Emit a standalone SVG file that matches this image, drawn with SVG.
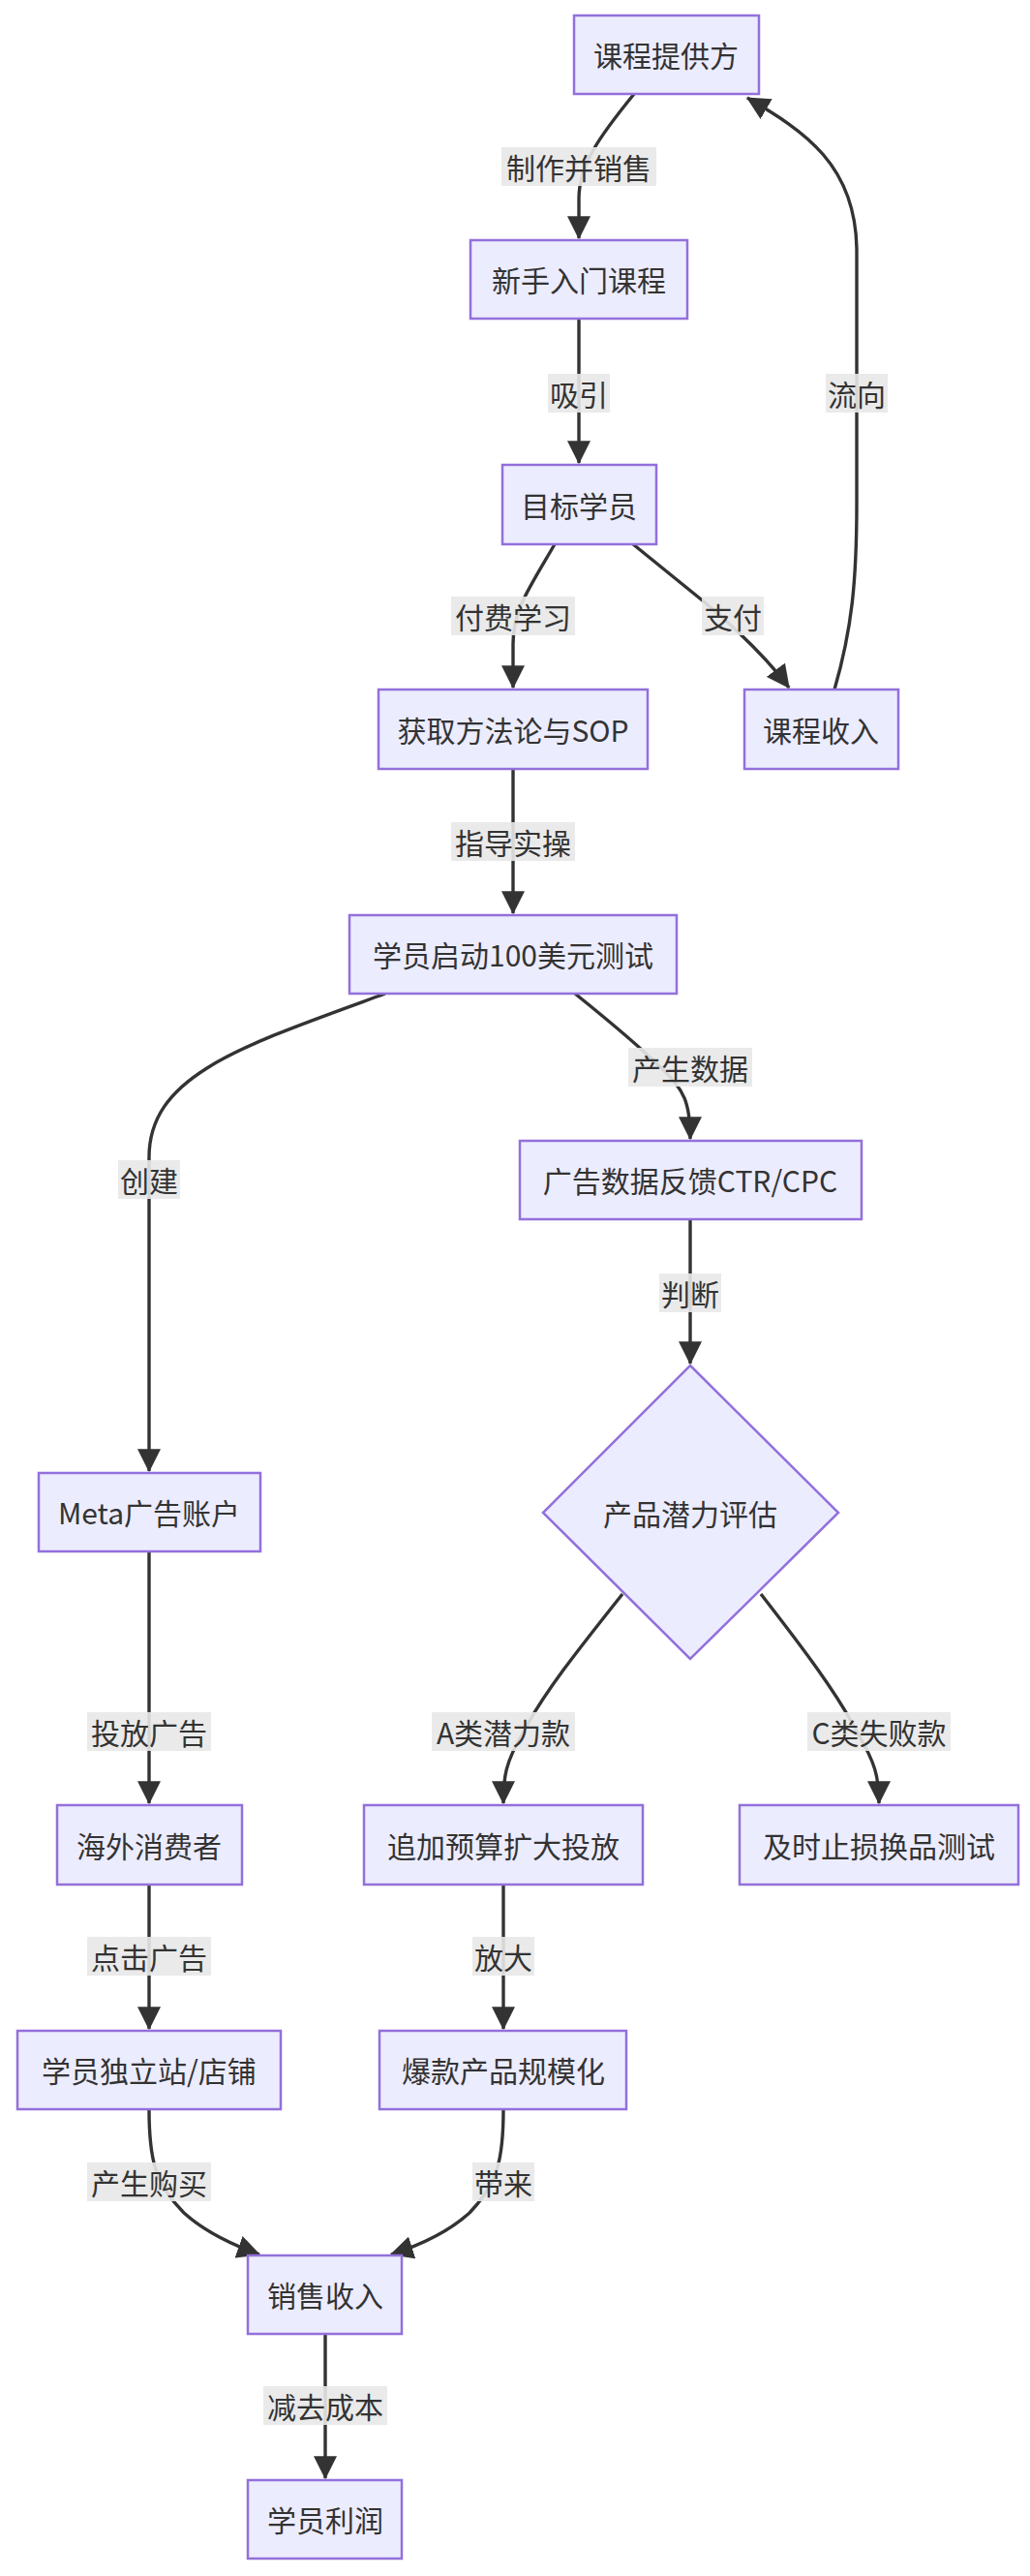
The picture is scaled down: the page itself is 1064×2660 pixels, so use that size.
<svg xmlns="http://www.w3.org/2000/svg" width="1064" height="2660" viewBox="0 0 1064 2660">
<style>
.n rect,.n polygon{fill:#ECECFF;stroke:#9370DB;stroke-width:2.5}
text{font-family:"Noto Sans CJK SC","Noto Sans",sans-serif;font-size:30px;fill:#333;text-anchor:middle;dominant-baseline:central}
.e path{fill:none;stroke:#333;stroke-width:3.4}
.l rect{fill:#e8e8e8;opacity:0.9}
</style>
<defs>
<marker id="a" markerUnits="userSpaceOnUse" markerWidth="24" markerHeight="24" viewBox="0 0 20 20" refX="19" refY="10" orient="auto">
<path d="M0,0 L20,10 L0,20 z" fill="#333"/>
</marker>
</defs>
<rect width="1064" height="2660" fill="#fff"/>
<g class="e" marker-end="url(#a)">
<path marker-end="url(#a)" d="M655,97 C620,140 598,170 598,205 L598,246"/>
<path marker-end="url(#a)" d="M598,329 L598,478"/>
<path marker-end="url(#a)" d="M573,562 C545,610 530,630 530,665 L530,710"/>
<path marker-end="url(#a)" d="M654,562 L728,622 Q785,670 815,710"/>
<path marker-end="url(#a)" d="M862,712 C880,650 885,600 885,520 L885,260 C885,170 830,135 772,101"/>
<path marker-end="url(#a)" d="M530,794 L530,943"/>
<path marker-end="url(#a)" d="M398,1026 C250,1080 154,1110 154,1195 L154,1519"/>
<path marker-end="url(#a)" d="M594,1026 C630,1055 660,1080 680,1100 C708,1125 713,1140 713,1176"/>
<path marker-end="url(#a)" d="M713,1259 L713,1408"/>
<path marker-end="url(#a)" d="M643,1646 C600,1700 560,1750 540,1790 C522,1820 520,1835 520,1862"/>
<path marker-end="url(#a)" d="M786,1646 C828,1700 866,1750 886,1790 C904,1820 908,1835 908,1862"/>
<path marker-end="url(#a)" d="M154,1602 L154,1862"/>
<path marker-end="url(#a)" d="M154,1946 L154,2095"/>
<path marker-end="url(#a)" d="M520,1946 L520,2095"/>
<path marker-end="url(#a)" d="M154,2178 C154,2230 160,2255 190,2285 C212,2305 240,2318 268,2328"/>
<path marker-end="url(#a)" d="M520,2178 C520,2230 514,2255 485,2285 C463,2305 435,2318 404,2328"/>
<path marker-end="url(#a)" d="M336,2410 L336,2559"/>
</g>
<g class="l">
<rect x="518" y="152" width="160" height="40"/><text x="598" y="172">制作并销售</text>
<rect x="566" y="386" width="64" height="40"/><text x="598" y="406">吸引</text>
<rect x="853" y="386" width="64" height="40"/><text x="885" y="406">流向</text>
<rect x="466" y="616" width="128" height="40"/><text x="530" y="636">付费学习</text>
<rect x="725" y="616" width="64" height="40"/><text x="757" y="636">支付</text>
<rect x="466" y="849" width="128" height="40"/><text x="530" y="869">指导实操</text>
<rect x="649" y="1082" width="128" height="40"/><text x="713" y="1102">产生数据</text>
<rect x="122" y="1198" width="64" height="40"/><text x="154" y="1218">创建</text>
<rect x="681" y="1315" width="64" height="40"/><text x="713" y="1335">判断</text>
<rect x="90" y="1768" width="128" height="40"/><text x="154" y="1788">投放广告</text>
<rect x="446" y="1768" width="148" height="40"/><text x="520" y="1788">A类潜力款</text>
<rect x="834" y="1768" width="148" height="40"/><text x="908" y="1788">C类失败款</text>
<rect x="90" y="2000" width="128" height="40"/><text x="154" y="2020">点击广告</text>
<rect x="488" y="2000" width="64" height="40"/><text x="520" y="2020">放大</text>
<rect x="90" y="2233" width="128" height="40"/><text x="154" y="2253">产生购买</text>
<rect x="488" y="2233" width="64" height="40"/><text x="520" y="2253">带来</text>
<rect x="272" y="2464" width="128" height="40"/><text x="336" y="2484">减去成本</text>
</g>
<g id="n1" class="n"><rect x="593" y="16" width="191" height="81"/><text x="688" y="56">课程提供方</text></g>
<g id="n2" class="n"><rect x="486" y="248" width="224" height="81"/><text x="598" y="288">新手入门课程</text></g>
<g id="n3" class="n"><rect x="519" y="480" width="159" height="82"/><text x="598" y="521">目标学员</text></g>
<g id="n4" class="n"><rect x="391" y="712" width="278" height="82"/><text x="530" y="753">获取方法论与SOP</text></g>
<g id="n5" class="n"><rect x="769" y="712" width="159" height="82"/><text x="848" y="753">课程收入</text></g>
<g id="n6" class="n"><rect x="361" y="945" width="338" height="81"/><text x="530" y="985">学员启动100美元测试</text></g>
<g id="n7" class="n"><rect x="537" y="1178" width="353" height="81"/><text x="713" y="1218">广告数据反馈CTR/CPC</text></g>
<g id="n8" class="n"><polygon points="713,1410 866,1562 713,1713 561,1562"/><text x="713" y="1562">产品潜力评估</text></g>
<g id="n9" class="n"><rect x="40" y="1521" width="229" height="81"/><text x="154" y="1561">Meta广告账户</text></g>
<g id="n10" class="n"><rect x="59" y="1864" width="191" height="82"/><text x="154" y="1905">海外消费者</text></g>
<g id="n11" class="n"><rect x="376" y="1864" width="288" height="82"/><text x="520" y="1905">追加预算扩大投放</text></g>
<g id="n12" class="n"><rect x="764" y="1864" width="288" height="82"/><text x="908" y="1905">及时止损换品测试</text></g>
<g id="n13" class="n"><rect x="18" y="2097" width="272" height="81"/><text x="154" y="2137">学员独立站/店铺</text></g>
<g id="n14" class="n"><rect x="392" y="2097" width="255" height="81"/><text x="520" y="2137">爆款产品规模化</text></g>
<g id="n15" class="n"><rect x="256" y="2329" width="159" height="81"/><text x="336" y="2369">销售收入</text></g>
<g id="n16" class="n"><rect x="256" y="2561" width="159" height="81"/><text x="336" y="2601">学员利润</text></g>
</svg>
